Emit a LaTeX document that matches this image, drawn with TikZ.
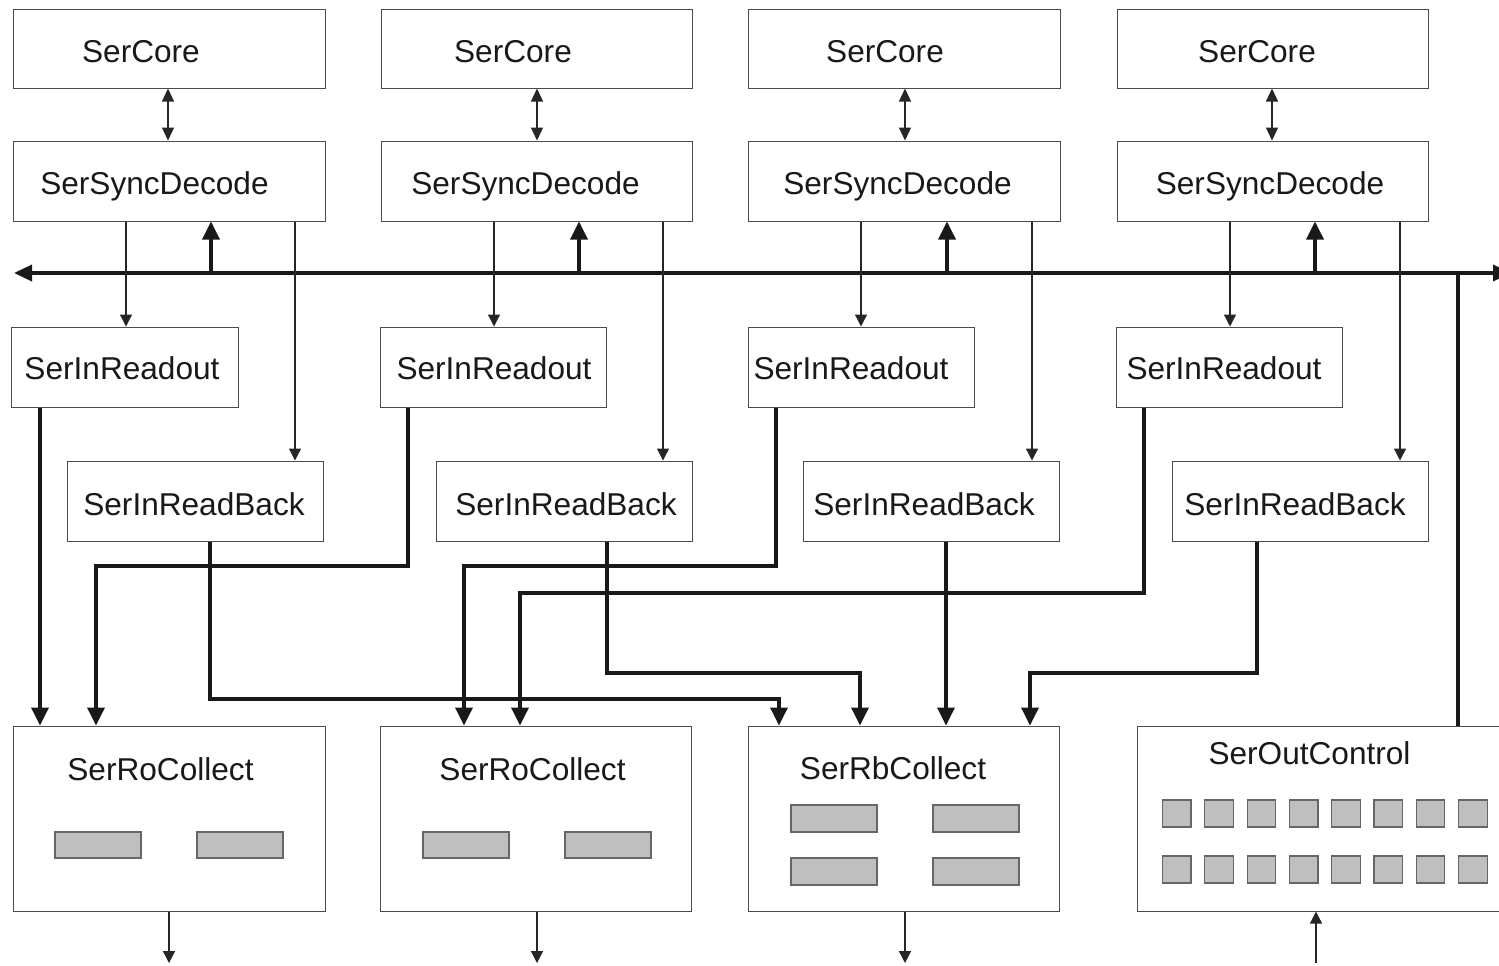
\documentclass[tikz,border=0pt]{standalone}
\usepackage{fontspec}
\setmainfont{Liberation Sans}
\usetikzlibrary{arrows.meta,fit}
\begin{document}
\begin{tikzpicture}[x=0.5pt,y=-0.5pt,
  box/.style={draw=black!70, line width=0.5pt, inner sep=0pt, fill=white},
  lbl/.style={inner sep=0pt, anchor=base, font=\fontsize{15.8}{19}\selectfont, text=black!90},
  thinarr/.style={draw=black!85, line width=0.65pt, -{Triangle[length=6pt,width=6pt]}},
  dblarr/.style={draw=black!85, line width=0.65pt, {Triangle[length=6.5pt,width=6pt]}-{Triangle[length=6.5pt,width=6pt]}},
  thinline/.style={draw=black!85, line width=0.65pt},
  thk/.style={line width=1.75pt, draw=black!90, -{Triangle[length=9pt,width=8.5pt]}},
  thkline/.style={line width=1.75pt, draw=black!90},
  busarr/.style={line width=1.75pt, draw=black!90, {Triangle[length=9pt,width=8pt]}-{Triangle[length=9pt,width=8pt]}},
  grayrect/.style={fill=black!25, draw=black!60, line width=0.6pt}
]
\useasboundingbox (0,0) rectangle (1499,965);

% SerCore
\node[box, fit={(13,9) (325,88)}] (c1) {};
\node[box, fit={(381,9) (692,88)}] (c2) {};
\node[box, fit={(748,9) (1060,88)}] (c3) {};
\node[box, fit={(1117,9) (1428,88)}] (c4) {};
\node[lbl] (tc1) at (141,62) {SerCore};
\node[lbl] (tc2) at (513,62) {SerCore};
\node[lbl] (tc3) at (885,62) {SerCore};
\node[lbl] (tc4) at (1257,62) {SerCore};

% SerSyncDecode
\node[box, fit={(13,141) (325,221)}] (sd1) {};
\node[box, fit={(381,141) (692,221)}] (sd2) {};
\node[box, fit={(748,141) (1060,221)}] (sd3) {};
\node[box, fit={(1117,141) (1428,221)}] (sd4) {};
\node[lbl] (tsd1) at (154.5,194) {SerSyncDecode};
\node[lbl] (tsd2) at (525.5,194) {SerSyncDecode};
\node[lbl] (tsd3) at (897.5,194) {SerSyncDecode};
\node[lbl] (tsd4) at (1270,194) {SerSyncDecode};

% SerInReadout
\node[box, fit={(11,327) (238,407)}] (ri1) {};
\node[box, fit={(380,327) (606,407)}] (ri2) {};
\node[box, fit={(748,327) (974,407)}] (ri3) {};
\node[box, fit={(1116,327) (1342,407)}] (ri4) {};
\node[lbl] (tri1) at (122,379) {SerInReadout};
\node[lbl] (tri2) at (494,379) {SerInReadout};
\node[lbl] (tri3) at (851,379) {SerInReadout};
\node[lbl] (tri4) at (1224,379) {SerInReadout};

% SerInReadBack
\node[box, fit={(67,461) (323,541)}] (rb1) {};
\node[box, fit={(436,461) (692,541)}] (rb2) {};
\node[box, fit={(803,461) (1059,541)}] (rb3) {};
\node[box, fit={(1172,461) (1428,541)}] (rb4) {};
\node[lbl] (trb1) at (194,515) {SerInReadBack};
\node[lbl] (trb2) at (566,515) {SerInReadBack};
\node[lbl] (trb3) at (924,515) {SerInReadBack};
\node[lbl] (trb4) at (1295,515) {SerInReadBack};

% bottom blocks
\node[box, fit={(13,726) (325,911)}] (ro1) {};
\node[box, fit={(380,726) (691,911)}] (ro2) {};
\node[box, fit={(748,726) (1059,911)}] (rbc) {};
\node[box, fit={(1137,726) (1515,911)}] (oc) {};
\node[lbl] (tro1) at (160.5,780) {SerRoCollect};
\node[lbl] (tro2) at (532.5,780) {SerRoCollect};
\node[lbl] (trbc) at (893,779) {SerRbCollect};
\node[lbl] (toc) at (1309.5,764) {SerOutControl};

% gray elements
\draw[grayrect] (55,832) rectangle (141,858);
\draw[grayrect] (197,832) rectangle (283,858);
\draw[grayrect] (423,832) rectangle (509,858);
\draw[grayrect] (565,832) rectangle (651,858);
\draw[grayrect] (791,805) rectangle (877,832);
\draw[grayrect] (933,805) rectangle (1019,832);
\draw[grayrect] (791,858) rectangle (877,885);
\draw[grayrect] (933,858) rectangle (1019,885);
\foreach \i in {0,...,7} {
  \draw[grayrect] ({1162.5+42.3*\i},800) rectangle ({1191+42.3*\i},827);
  \draw[grayrect] ({1162.5+42.3*\i},856) rectangle ({1191+42.3*\i},883);
}

% bus
\coordinate (busL) at (14,273);
\coordinate (busR) at (1511,273);
\draw[busarr] (busL) -- (busR);

% SerCore <-> SerSyncDecode
\draw[dblarr] (c1.south -| 168,0) -- (sd1.north -| 168,0);
\draw[dblarr] (c2.south -| 537,0) -- (sd2.north -| 537,0);
\draw[dblarr] (c3.south -| 905,0) -- (sd3.north -| 905,0);
\draw[dblarr] (c4.south -| 1272,0) -- (sd4.north -| 1272,0);

% bus -> SerSyncDecode
\draw[thk] (busL -| 211,0) -- (sd1.south -| 211,0);
\draw[thk] (busL -| 579,0) -- (sd2.south -| 579,0);
\draw[thk] (busL -| 947,0) -- (sd3.south -| 947,0);
\draw[thk] (busL -| 1315,0) -- (sd4.south -| 1315,0);

% SerSyncDecode -> SerInReadout / SerInReadBack
\draw[thinarr] (sd1.south -| 126,0) -- (ri1.north -| 126,0);
\draw[thinarr] (sd1.south -| 295,0) -- (rb1.north -| 295,0);
\draw[thinarr] (sd2.south -| 494,0) -- (ri2.north -| 494,0);
\draw[thinarr] (sd2.south -| 663,0) -- (rb2.north -| 663,0);
\draw[thinarr] (sd3.south -| 861,0) -- (ri3.north -| 861,0);
\draw[thinarr] (sd3.south -| 1032,0) -- (rb3.north -| 1032,0);
\draw[thinarr] (sd4.south -| 1230,0) -- (ri4.north -| 1230,0);
\draw[thinarr] (sd4.south -| 1400,0) -- (rb4.north -| 1400,0);

% readout / readback -> collectors
\draw[thk] (ri1.south -| 40,0) -- (ro1.north -| 40,0);
\draw[thk] (ri2.south -| 408,0) |- (96,566) -- (ro1.north -| 96,0);
\draw[thk] (rb1.south -| 210,0) |- (779,699) -- (rbc.north -| 779,0);
\draw[thk] (ri3.south -| 776,0) |- (464,566) -- (ro2.north -| 464,0);
\draw[thk] (ri4.south -| 1144,0) |- (520,593) -- (ro2.north -| 520,0);
\draw[thk] (rb2.south -| 607,0) |- (860,673) -- (rbc.north -| 860,0);
\draw[thk] (rb3.south -| 946,0) -- (rbc.north -| 946,0);
\draw[thk] (rb4.south -| 1257,0) |- (1030,673) -- (rbc.north -| 1030,0);
\draw[thkline] (busL -| 1458,0) -- (oc.north -| 1458,0);

% outputs / input
\coordinate (o1) at (169,963);
\coordinate (o2) at (537,963);
\coordinate (o3) at (905,963);
\coordinate (in4) at (1316,963);
\draw[thinarr] (ro1.south -| o1) -- (o1);
\draw[thinarr] (ro2.south -| o2) -- (o2);
\draw[thinarr] (rbc.south -| o3) -- (o3);
\draw[thinarr] (in4) -- (oc.south -| in4);
\end{tikzpicture}
\end{document}
